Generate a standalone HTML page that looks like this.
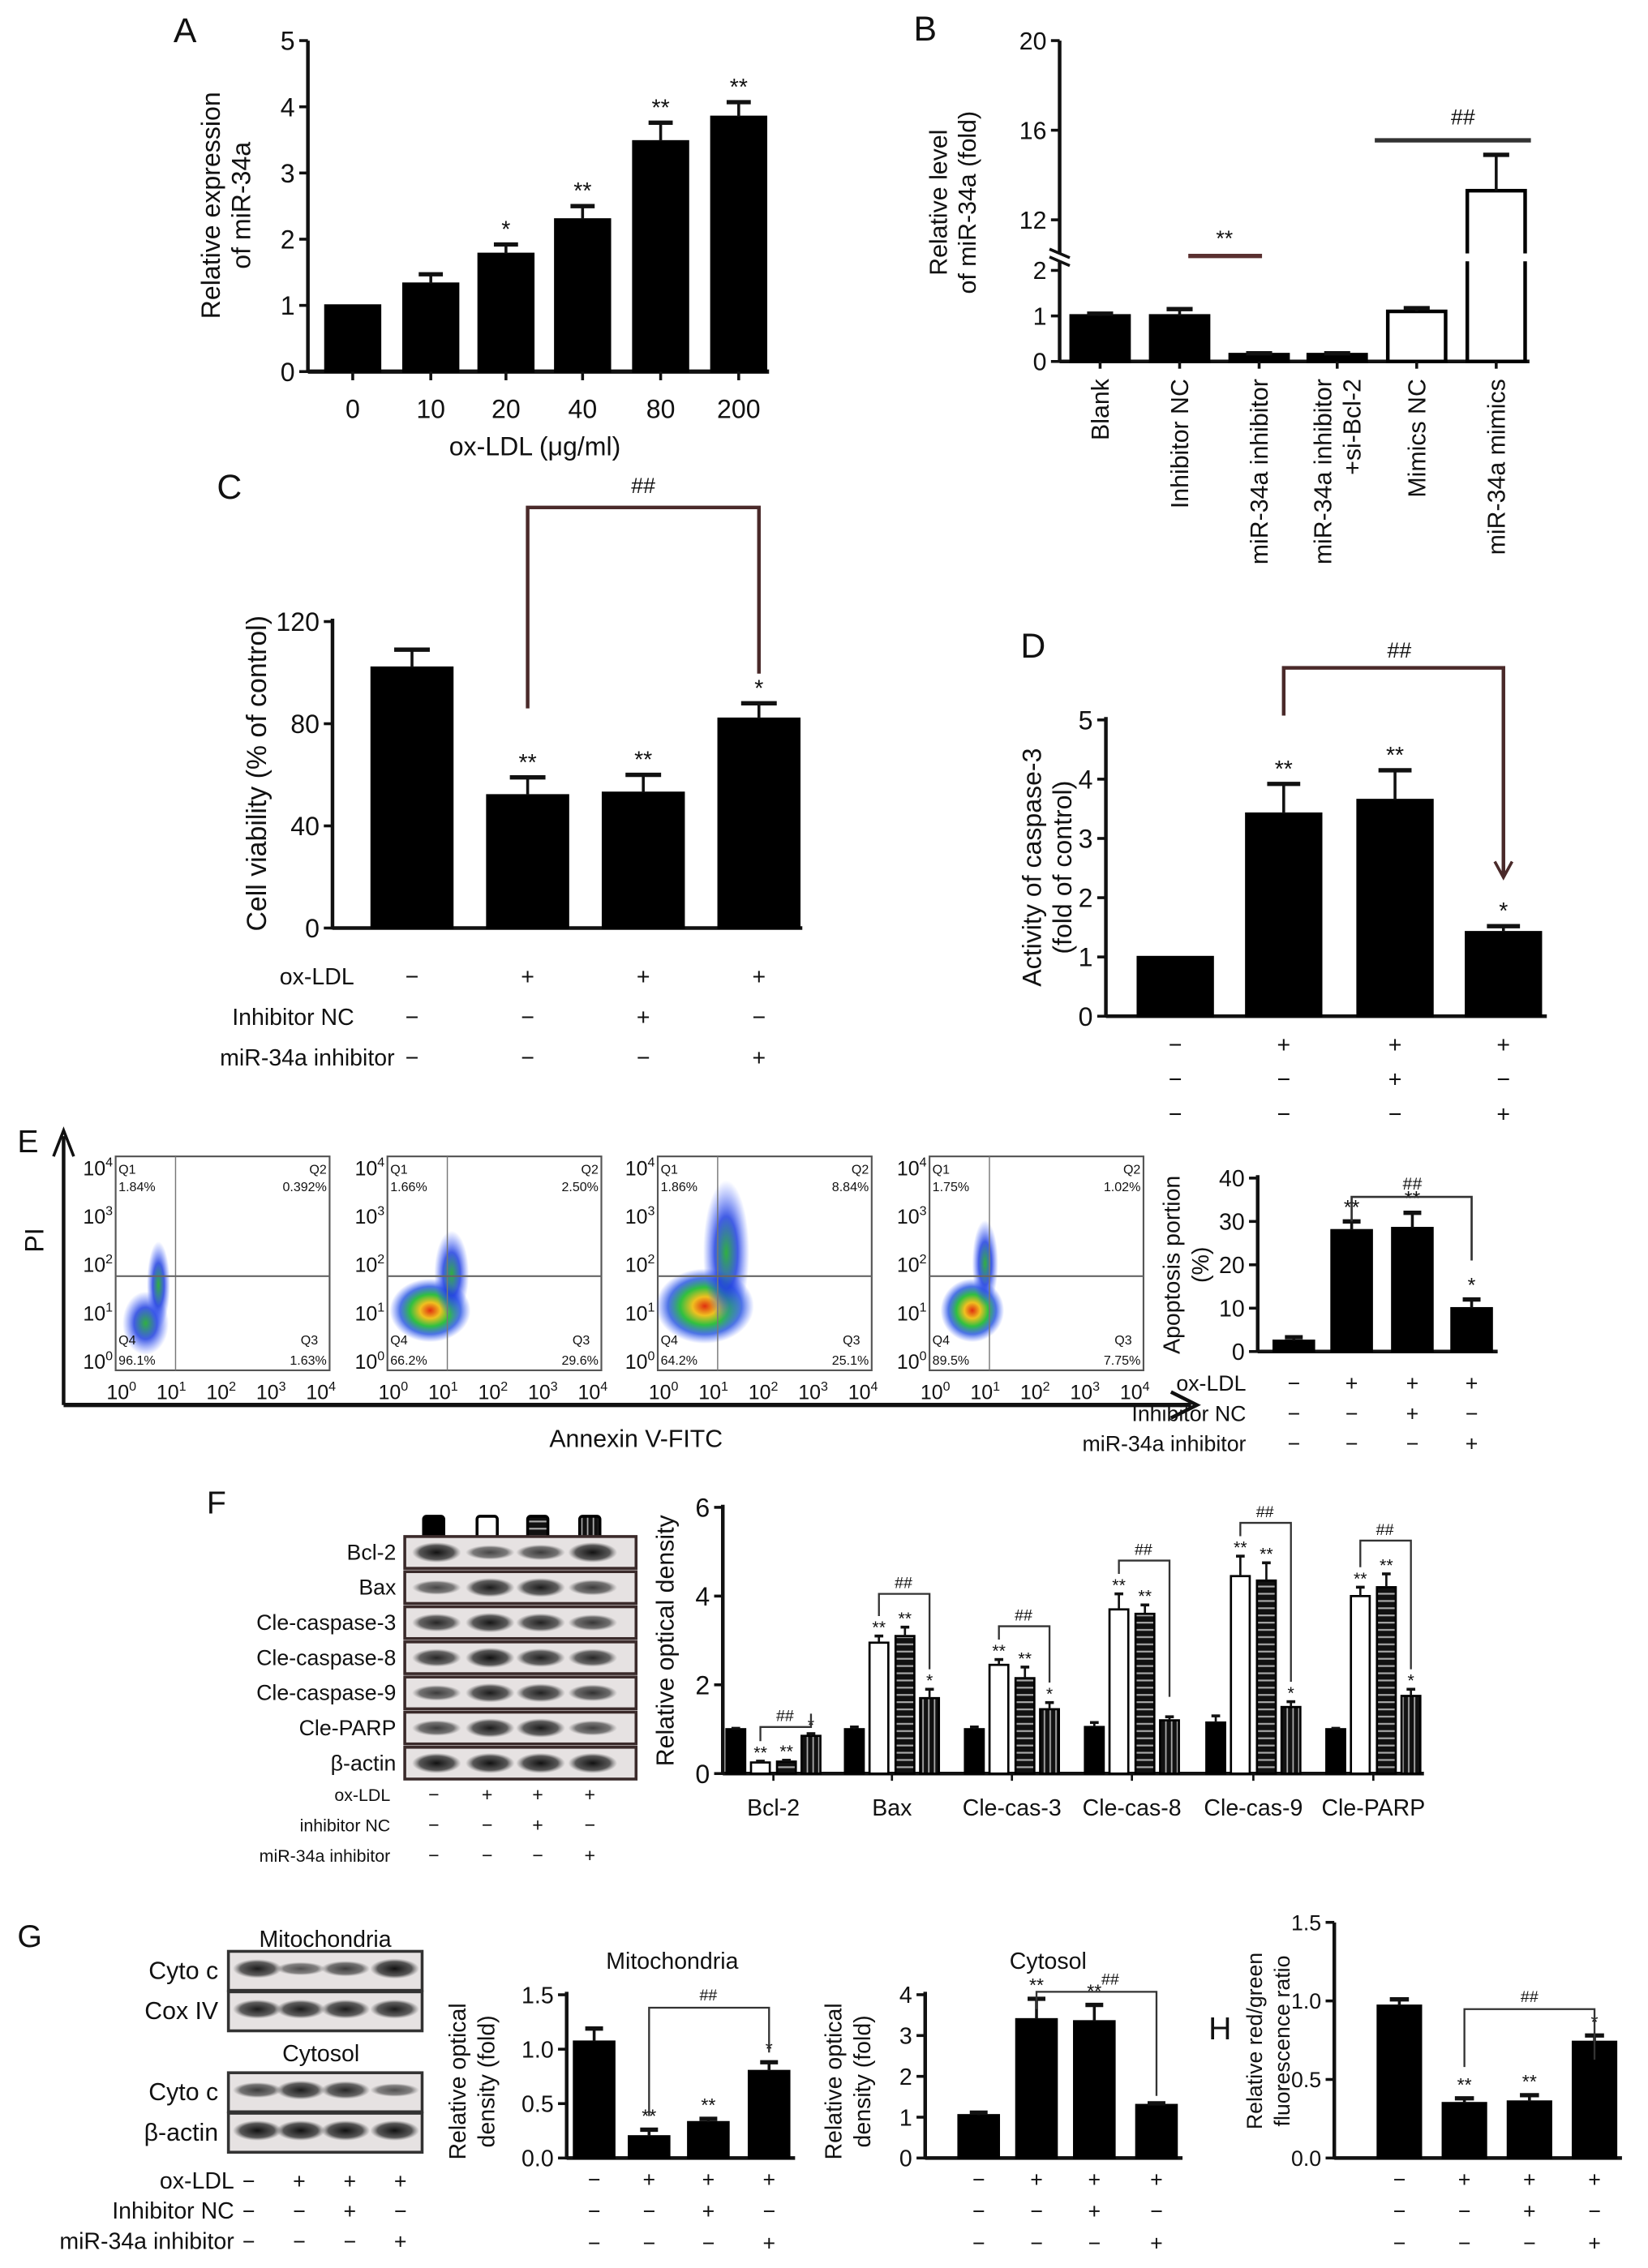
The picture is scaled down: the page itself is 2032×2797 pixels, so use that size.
<!DOCTYPE html>
<html><head><meta charset="utf-8"><style>
html,body{margin:0;padding:0;background:#fff}
svg{display:block}
text{font-family:"Liberation Sans Narrow","Liberation Sans",sans-serif;fill:#111}
.t{font-family:"Liberation Sans",sans-serif}
</style></head><body>
<svg id="fig" xmlns="http://www.w3.org/2000/svg" width="2032" height="2797" viewBox="0 0 1140 1569">
<defs>
<pattern id="hstripe" width="6" height="5" patternUnits="userSpaceOnUse"><rect width="6" height="5" fill="#111"/><rect y="2" width="6" height="1.2" fill="#aaa"/></pattern>
<pattern id="vstripe" width="4" height="6" patternUnits="userSpaceOnUse"><rect width="4" height="6" fill="#111"/><rect x="2" width="1" height="6" fill="#aaa"/></pattern>
<radialGradient id="dens"><stop offset="0" stop-color="#e03010"/><stop offset="0.25" stop-color="#f0c020"/><stop offset="0.5" stop-color="#30c040"/><stop offset="0.75" stop-color="#2050e0" stop-opacity="0.8"/><stop offset="1" stop-color="#4060ff" stop-opacity="0"/></radialGradient>
<radialGradient id="densB"><stop offset="0" stop-color="#30b040"/><stop offset="0.5" stop-color="#2040e0" stop-opacity="0.85"/><stop offset="1" stop-color="#4060ff" stop-opacity="0"/></radialGradient>
<radialGradient id="band"><stop offset="0" stop-color="#111"/><stop offset="0.7" stop-color="#333" stop-opacity="0.8"/><stop offset="1" stop-color="#666" stop-opacity="0"/></radialGradient>
</defs>
</svg>
<script>
// ===== data =====
const aCats=["0","10","20","40","80","200"];
const aVals=[1.0,1.33,1.78,2.3,3.48,3.85];
const aErrs=[0,0.14,0.14,0.2,0.28,0.22];
const aSig=["","","*","**","**","**"];
const aTicks=[0,1,2,3,4,5];

const bCats=["Blank","Inhibitor NC","miR-34a inhibitor","miR-34a inhibitor|+si-Bcl-2","Mimics NC","miR-34a mimics"];
const bVals=[1.0,1.0,0.15,0.15,1.1,13.3];
const bErrs=[0.05,0.15,0.03,0.03,0.07,1.6];
const bTicksLow=[0,1,2];
const bTicksHigh=[12,16,20];

const cVals=[102,52,53,82];
const cErrs=[7,7,7,6];
const cSig=["","**","**","*"];
const cTicks=[0,40,80,120];

const dVals=[1.0,3.42,3.65,1.42];
const dErrs=[0,0.5,0.5,0.1];
const dSig=["","**","**","*"];
const dTicks=[0,1,2,3,4,5];

const eVals=[2.5,28,28.5,10];
const eErrs=[0.8,2,3.5,2];
const eSig=["","**","**","*"];
const eTicks=[0,10,20,30,40];
const flowQ1=["1.84%","1.66%","1.86%","1.75%"];
const flowQ2=["0.392%","2.50%","8.84%","1.02%"];
const flowQ3=["1.63%","29.6%","25.1%","7.75%"];
const flowQ4=["96.1%","66.2%","64.2%","89.5%"];

const fCats=["Bcl-2","Bax","Cle-cas-3","Cle-cas-8","Cle-cas-9","Cle-PARP"];
const fCtrl=[1.0,1.0,1.0,1.05,1.15,1.0];
const fOx=[0.25,2.95,2.45,3.7,4.45,4.0];
const fNC=[0.27,3.1,2.15,3.6,4.35,4.2];
const fInh=[0.85,1.7,1.45,1.2,1.5,1.75];
const fErr=[[0.02,0.05,0.05,0.1,0.15,0.02],[0.03,0.15,0.12,0.35,0.45,0.2],[0.03,0.2,0.25,0.2,0.4,0.3],[0.05,0.2,0.15,0.08,0.12,0.15]];
const fSig=[["**","**","*"],["**","**","*"],["**","**","*"],["**","**",""],["**","**","*"],["**","**","*"]];
const fTicks=[0,2,4,6];

const gmVals=[1.07,0.2,0.33,0.8];
const gmErrs=[0.12,0.06,0.03,0.08];
const gcVals=[1.05,3.4,3.35,1.3];
const gcErrs=[0.06,0.5,0.4,0.04];
const gSigM=["","**","**","*"];
const gSigC=["","**","**",""];
const gmTicks=[0.0,0.5,1.0,1.5];
const gcTicks=[0,1,2,3,4];

const hVals=[0.97,0.35,0.36,0.74];
const hErrs=[0.04,0.03,0.04,0.04];
const hSig=["","**","**","*"];
const hTicks=[0.0,0.5,1.0,1.5];

const signOx=["−","+","+","+"];
const signNC=["−","−","+","−"];
const signInh=["−","−","−","+"];

// ===== helpers =====
const NS="http://www.w3.org/2000/svg";
const svg=document.getElementById('fig');
function mk(tag,attrs,name,parent){
  const e=document.createElementNS(NS,tag);
  for(const k in attrs)e.setAttribute(k,attrs[k]);
  
  
  (parent||svg).appendChild(e);return e;
}
function txt(x,y,s,size,anchor,name,rot,cls){
  const a={x:x,y:y,'font-size':size,'text-anchor':anchor||'middle'};
  if(rot)a.transform=`rotate(${rot} ${x} ${y})`;
  if(cls)a['class']=cls;
  const t=mk('text',a,name);t.textContent=s;return t;
}
function line(x1,y1,x2,y2,w,name,col){return mk('line',{x1:x1,y1:y1,x2:x2,y2:y2,stroke:col||'#111','stroke-width':w||1.5},name);}
function fmt(v,d){return d?v.toFixed(d):String(v);}
function yAxis(ax,base,ppu,ticks,top,size,dec,name){
  line(ax,base+1,ax,top,2.5,name+'-y-axis');
  ticks.forEach(t=>{const y=base-t*ppu;line(ax-6,y,ax,y,2,name+'-y-tick');txt(ax-9,y+size*0.36,fmt(t,dec),size,'end',name+'-y-tick-label');});
}
function barSet(ax,base,ppu,centers,w,vals,errs,sig,name,fill,ssize){
  vals.forEach((v,i)=>{
    const x=centers[i]-w/2,h=v*ppu,y=base-h;
    mk('rect',{x:x,y:y,width:w,height:h,fill:fill||'#000',stroke:'#000','stroke-width':1.5},name+'-bar');
    if(errs[i]>0){const ye=base-(v+errs[i])*ppu;line(centers[i],y,centers[i],ye,2,name+'-error-bar');line(centers[i]-w*0.22,ye,centers[i]+w*0.22,ye,3,name+'-error-cap');}
    if(sig&&sig[i]){const ye=base-(v+errs[i])*ppu;txt(centers[i],ye-5,sig[i],ssize||14,'middle',name+'-significance');}
  });
}
function signRows(xs,ys,size,name){
  [signOx,signNC,signInh].forEach((row,r)=>row.forEach((s,i)=>txt(xs[i],ys[r],s,size,'middle',name+'-sign')));
}

// ===== Panel A =====
txt(120,29,"A",24,'start','panel-a-label',0,'t');
(function(){
  const ax=213,base=257,ppu=45.8,centers=[244,298,350,403,457,511];
  yAxis(ax,base,ppu,aTicks,28,18,0,'panel-a');
  line(ax,base,532,base,3,'panel-a-x-axis');
  barSet(ax,base,ppu,centers,38,aVals,aErrs,aSig,'panel-a',"#000",16);
  centers.forEach((c,i)=>{line(c,base,c,base+6,2,'panel-a-x-tick');txt(c,289,aCats[i],18,'middle','panel-a-x-tick-label');});
  txt(370,315,"ox-LDL (μg/ml)",18,'middle','panel-a-x-title');
  txt(152,142,"Relative expression",18,'middle','panel-a-y-title',-90,'t');
  txt(173,142,"of miR-34a",18,'middle','panel-a-y-title',-90,'t');
})();

// ===== Panel B =====
txt(632,28,"B",24,'start','panel-b-label',0,'t');
(function(){
  const ax=733,baseL=250,ppuL=31.5,topH=28,ppuH=15.5;
  const yH=v=>topH+(20-v)*ppuH, yL=v=>baseL-v*ppuL;
  line(ax,baseL+1,ax,yL(2.2),2.5,'panel-b-y-axis-lower');
  line(ax,yH(10.5),ax,topH,2.5,'panel-b-y-axis-upper');
  line(ax-7,yL(2.2)-3,ax+7,yL(2.2)+3,2,'panel-b-axis-break');
  line(ax-7,yH(10.5)-3,ax+7,yH(10.5)+3,2,'panel-b-axis-break');
  bTicksLow.forEach(t=>{line(ax-6,yL(t),ax,yL(t),2,'panel-b-y-tick');txt(ax-9,yL(t)+6,String(t),17,'end','panel-b-y-tick-label');});
  bTicksHigh.forEach(t=>{line(ax-6,yH(t),ax,yH(t),2,'panel-b-y-tick');txt(ax-9,yH(t)+6,String(t),17,'end','panel-b-y-tick-label');});
  line(ax,baseL,1058,baseL,2.5,'panel-b-x-axis');
  const centers=[761,816,871,925,980,1035],w=40;
  bVals.forEach((v,i)=>{
    const fill=i>=4?'#fff':'#000';
    const yv=v>2?yH(v):yL(v);
    mk('rect',{x:centers[i]-w/2,y:yv,width:w,height:baseL-yv,fill:fill,stroke:'#000','stroke-width':2.5},'panel-b-bar');
    const ye=(v+bErrs[i])>2?yH(v+bErrs[i]):yL(v+bErrs[i]);
    line(centers[i],yv,centers[i],ye,2,'panel-b-error-bar');line(centers[i]-9,ye,centers[i]+9,ye,3,'panel-b-error-cap');
    line(centers[i],baseL,centers[i],baseL+5,2,'panel-b-x-tick');
    const parts=bCats[i].split('|');
    parts.forEach((p,j)=>txt(centers[i]+6+(j-(parts.length-1)/2)*20,262,p,17,'end','panel-b-x-tick-label',-90,'t'));
  });
  mk('rect',{x:centers[5]-w/2-2,y:yH(10.5),width:w+4,height:yL(2.2)-yH(10.5),fill:'#fff'},'panel-b-bar-gap');
  line(822,177,873,177,3,'panel-b-sig-line','#5a3030');txt(847,170,"**",15,'middle','panel-b-significance');
  line(951,97,1059,97,3,'panel-b-sig-line','#333');txt(1012,86,"##",15,'middle','panel-b-significance');
  txt(655,140,"Relative level",17,'middle','panel-b-y-title',-90,'t');
  txt(675,140,"of miR-34a (fold)",17,'middle','panel-b-y-title',-90,'t');
})();

// ===== Panel C =====
txt(150,345,"C",24,'start','panel-c-label',0,'t');
(function(){
  const ax=230,base=642,ppu=1.767,centers=[285,365,445,525];
  yAxis(ax,base,ppu,cTicks,428,18,0,'panel-c');
  line(ax,base,555,base,2.5,'panel-c-x-axis');
  barSet(ax,base,ppu,centers,56,cVals,cErrs,cSig,'panel-c',"#000",16);
  mk('path',{d:'M365 490V351H525V466',fill:'none',stroke:'#4a2a2a','stroke-width':2.5},'panel-c-bracket');
  txt(445,341,"##",15,'middle','panel-c-bracket-label');
  txt(184,535,"Cell viability (% of control)",19,'middle','panel-c-y-title',-90,'t');
  const ys=[681,709,737];
  txt(245,ys[0],"ox-LDL",16,'end','panel-c-row-label','', 't');
  txt(245,ys[1],"Inhibitor NC",16,'end','panel-c-row-label','','t');
  txt(273,ys[2],"miR-34a inhibitor",16,'end','panel-c-row-label','','t');
  signRows(centers,ys,16,'panel-c');
})();

// ===== Panel D =====
txt(706,455,"D",24,'start','panel-d-label',0,'t');
(function(){
  const ax=765,base=703,ppu=41,centers=[813,888,965,1040];
  yAxis(ax,base,ppu,dTicks,496,18,0,'panel-d');
  line(ax,base,1070,base,2.5,'panel-d-x-axis');
  barSet(ax,base,ppu,centers,52,dVals,dErrs,dSig,'panel-d',"#000",16);
  mk('path',{d:'M888 495V462H1040V605',fill:'none',stroke:'#4a2a2a','stroke-width':2.5},'panel-d-bracket');
  mk('path',{d:'M1034 596L1040 607L1046 596',fill:'none',stroke:'#4a2a2a','stroke-width':2},'panel-d-bracket-arrow');
  txt(968,455,"##",15,'middle','panel-d-bracket-label');
  txt(720,600,"Activity of caspase-3",18,'middle','panel-d-y-title',-90,'t');
  txt(741,600,"(fold of control)",18,'middle','panel-d-y-title',-90,'t');
  signRows(centers,[728,752,776],16,'panel-d');
})();

// ===== Panel E =====
txt(12,797,"E",22,'start','panel-e-label',0,'t');
(function(){
  line(44,972,44,786,2.5,'panel-e-y-arrow');
  mk('path',{d:'M37 800L44 782L51 800',fill:'none',stroke:'#111','stroke-width':2},'panel-e-y-arrowhead');
  line(44,972,824,972,3,'panel-e-x-arrow');
  mk('path',{d:'M810 963L828 972L810 981',fill:'none',stroke:'#111','stroke-width':2.5},'panel-e-x-arrowhead');
  txt(30,858,"PI",18,'middle','panel-e-y-title',-90,'t');
  txt(440,1001,"Annexin V-FITC",17,'middle','panel-e-x-title','','t');
  const lefts=[80,268,455,643],W=148,top=800,H=148;
  const blobs=[[[0.14,0.78,16,22,'densB'],[0.2,0.6,8,30,'densB']],
               [[0.2,0.72,28,22,'dens'],[0.3,0.55,12,30,'densB']],
               [[0.22,0.7,34,26,'dens'],[0.32,0.45,16,50,'densB']],
               [[0.2,0.72,22,22,'dens'],[0.26,0.5,9,30,'densB']]];
  lefts.forEach((L,i)=>{
    mk('rect',{x:L,y:top,width:W,height:H,fill:'#fff',stroke:'#555','stroke-width':1.2},'flow-plot-frame');
    blobs[i].forEach(b=>mk('ellipse',{cx:L+b[0]*W,cy:top+b[1]*H,rx:b[2],ry:b[3],fill:`url(#${b[4]})`},'flow-plot-population'));
    line(L+0.28*W,top,L+0.28*W,top+H,0.8,'flow-gate-vertical','#777');
    line(L,top+0.56*H,L+W,top+0.56*H,1.2,'flow-gate-horizontal','#666');
    txt(L+2,top+12,"Q1",9,'start','flow-q1-label');txt(L+2,top+24,flowQ1[i],9,'start','flow-q1-value');
    txt(L+W-2,top+12,"Q2",9,'end','flow-q2-label');txt(L+W-2,top+24,flowQ2[i],9,'end','flow-q2-value');
    txt(L+W-8,top+H-18,"Q3",9,'end','flow-q3-label');txt(L+W-2,top+H-4,flowQ3[i],9,'end','flow-q3-value');
    txt(L+2,top+H-18,"Q4",9,'start','flow-q4-label');txt(L+2,top+H-4,flowQ4[i],9,'start','flow-q4-value');
    for(let k=0;k<5;k++){
      const y=top+H-6-k*(H-14)/4;
      const t=txt(L-2,y+5,"10",14,'end','flow-y-tick-label');
      const s=document.createElementNS(NS,'tspan');s.setAttribute('dy','-6');s.setAttribute('font-size','9');s.textContent=String(k);t.appendChild(s);
      const x=L+4+k*(W-10)/4;
      const t2=txt(x,top+H+20,"10",14,'middle','flow-x-tick-label');
      const s2=document.createElementNS(NS,'tspan');s2.setAttribute('dy','-6');s2.setAttribute('font-size','9');s2.textContent=String(k);t2.appendChild(s2);
    }
  });
  const ax=870,base=935,ppu=3,centers=[895,935,977,1018];
  yAxis(ax,base,ppu,eTicks,813,16,0,'panel-e');
  line(ax,base,1036,base,2.5,'panel-e-x-axis');
  barSet(ax,base,ppu,centers,28,eVals,eErrs,eSig,'panel-e',"#000",14);
  mk('path',{d:'M935 845V828H1018V872',fill:'none',stroke:'#333','stroke-width':1.5},'panel-e-bracket');
  txt(977,823,"##",12,'middle','panel-e-bracket-label');
  txt(816,875,"Apoptosis portion",16,'middle','panel-e-y-title',-90,'t');
  txt(836,875,"(%)",16,'middle','panel-e-y-title',-90,'t');
  const ys=[962,983,1004];
  txt(862,ys[0],"ox-LDL",15,'end','panel-e-row-label','','t');
  txt(862,ys[1],"Inhibitor NC",15,'end','panel-e-row-label','','t');
  txt(862,ys[2],"miR-34a inhibitor",15,'end','panel-e-row-label','','t');
  signRows(centers,ys,15,'panel-e');
})();

// ===== Panel F =====
txt(143,1047,"F",22,'start','panel-f-label',0,'t');
(function(){
  const lanes=[300,337,372,408];
  const fills=['#000','#fff','url(#hstripe)','url(#vstripe)'];
  lanes.forEach((x,i)=>mk('rect',{x:x-7,y:1049,width:14,height:16,fill:fills[i],stroke:'#000','stroke-width':2,rx:2},'legend-swatch'));
  const rows=["Bcl-2","Bax","Cle-caspase-3","Cle-caspase-8","Cle-caspase-9","Cle-PARP","β-actin"];
  const inten=[[1,0.5,0.6,1],[0.5,0.9,0.9,0.6],[0.8,0.95,0.85,0.65],[0.8,1,0.85,0.8],[0.6,0.9,0.85,0.7],[0.6,0.9,0.9,0.55],[1,1,1,1]];
  rows.forEach((r,k)=>{
    const y=1063+k*24.3;
    mk('rect',{x:280,y:y,width:160,height:22,fill:'#e6e2e2',stroke:'#3a2a2a','stroke-width':2},'blot-row');
    lanes.forEach((x,i)=>mk('ellipse',{cx:x+2,cy:y+11,rx:17,ry:3+4*inten[k][i],fill:'url(#band)','opacity':0.5+0.5*inten[k][i]},'blot-band'));
    txt(274,y+16,r,15,'end','blot-row-label','','t');
  });
  const ys=[1246,1267,1288];
  txt(270,ys[0],"ox-LDL",12,'end','panel-f-row-label','','t');
  txt(270,ys[1],"inhibitor NC",12,'end','panel-f-row-label','','t');
  txt(270,ys[2],"miR-34a inhibitor",12,'end','panel-f-row-label','','t');
  signRows(lanes,ys,13,'panel-f');
  const ax=500,base=1227,ppu=30.7,gc=[535,617,700,783,867,950],off=[-26,-9,9,26],w=13;
  yAxis(ax,base,ppu,fTicks,1041,18,0,'panel-f');
  line(ax,base,985,base,2.5,'panel-f-x-axis');
  const series=[fCtrl,fOx,fNC,fInh];
  gc.forEach((c,g)=>{
    series.forEach((s,k)=>{
      const cx=c+off[k],v=s[g],e=fErr[k][g],y=base-v*ppu;
      mk('rect',{x:cx-w/2,y:y,width:w,height:v*ppu,fill:fills[k],stroke:'#000','stroke-width':1.5},'panel-f-bar');
      const ye=base-(v+e)*ppu;line(cx,y,cx,ye,1.5,'panel-f-error-bar');line(cx-3,ye,cx+3,ye,2,'panel-f-error-cap');
      if(k>0&&fSig[g][k-1])txt(cx,ye-2,fSig[g][k-1],12,'middle','panel-f-significance');
    });
    const top=base-(Math.max(fOx[g]+fErr[1][g],fNC[g]+fErr[2][g])+0.75)*ppu;
    mk('path',{d:`M${c+off[1]} ${base-(fOx[g]+fErr[1][g]+0.45)*ppu}V${top}H${c+off[3]}V${base-(fInh[g]+fErr[3][g]+0.45)*ppu}`,fill:'none',stroke:'#333','stroke-width':1.3},'panel-f-bracket');
    txt(c+8,top-4,"##",11,'middle','panel-f-bracket-label');
    line(c,base,c,base+5,1.5,'panel-f-x-tick');
    txt(c,1256,fCats[g],16,'middle','panel-f-x-tick-label');
  });
  txt(466,1135,"Relative optical density",17,'middle','panel-f-y-title',-90,'t');
})();

// ===== Panel G =====
txt(12,1347,"G",22,'start','panel-g-label',0,'t');
(function(){
  txt(225,1347,"Mitochondria",16,'middle','blot-mito-title','','t');
  txt(222,1426,"Cytosol",16,'middle','blot-cyto-title','','t');
  const lanes=[178,208,239,273];
  const blocks=[[1350,"Cyto c",[0.9,0.4,0.6,1]],[1378,"Cox IV",[0.9,0.9,0.9,0.9]],[1434,"Cyto c",[0.6,0.9,0.8,0.4]],[1462,"β-actin",[1,1,1,1]]];
  blocks.forEach(b=>{
    mk('rect',{x:158,y:b[0],width:134,height:27,fill:'#e6e2e2',stroke:'#333','stroke-width':2},'blot-row');
    lanes.forEach((x,i)=>mk('ellipse',{cx:x,cy:b[0]+12,rx:17,ry:3+4*b[2][i],fill:'url(#band)',opacity:0.5+0.5*b[2][i]},'blot-band'));
    txt(151,b[0]+19,b[1],17,'end','blot-row-label','','t');
  });
  const ys=[1514,1535,1556];
  txt(162,ys[0],"ox-LDL",16,'end','panel-g-row-label','','t');
  txt(162,ys[1],"Inhibitor NC",16,'end','panel-g-row-label','','t');
  txt(162,ys[2],"miR-34a inhibitor",16,'end','panel-g-row-label','','t');
  const signX=[172,207,242,277];
  [signOx,signNC,signInh].forEach((row,r)=>row.forEach((s,i)=>txt(signX[i],ys[r],s,15,'middle','panel-g-sign')));
  const sy=[1513,1535,1557];
  let ax=392,base=1493,ppu=75.3,centers=[411,449,490,532];
  yAxis(ax,base,ppu,gmTicks,1378,16,1,'panel-g-mito');
  line(ax,base,550,base,2.5,'panel-g-mito-x-axis');
  barSet(ax,base,ppu,centers,28,gmVals,gmErrs,gSigM,'panel-g-mito',"#000",13);
  mk('path',{d:'M449 1464V1389H532V1420',fill:'none',stroke:'#333','stroke-width':1.3},'panel-g-mito-bracket');
  txt(490,1384,"##",11,'middle','panel-g-mito-bracket-label');
  txt(465,1362,"Mitochondria",16,'middle','panel-g-mito-title','','t');
  txt(322,1440,"Relative optical",16,'middle','panel-g-mito-y-title',-90,'t');
  txt(342,1440,"density (fold)",16,'middle','panel-g-mito-y-title',-90,'t');
  signRows(centers,sy,15,'panel-g-mito');
  ax=640;ppu=28.25;centers=[677,717,757,800];
  yAxis(ax,base,ppu,gcTicks,1378,16,0,'panel-g-cyto');
  line(ax,base,818,base,2.5,'panel-g-cyto-x-axis');
  barSet(ax,base,ppu,centers,28,gcVals,gcErrs,gSigC,'panel-g-cyto',"#000",13);
  mk('path',{d:'M717 1390V1378H800V1450',fill:'none',stroke:'#333','stroke-width':1.3},'panel-g-cyto-bracket');
  txt(768,1373,"##",11,'middle','panel-g-cyto-bracket-label');
  txt(725,1362,"Cytosol",16,'middle','panel-g-cyto-title','','t');
  txt(582,1440,"Relative optical",16,'middle','panel-g-cyto-y-title',-90,'t');
  txt(602,1440,"density (fold)",16,'middle','panel-g-cyto-y-title',-90,'t');
  signRows(centers,sy,15,'panel-g-cyto');
})();

// ===== Panel H =====
txt(836,1411,"H",22,'start','panel-h-label',0,'t');
(function(){
  const ax=923,base=1493,ppu=108.7,centers=[968,1013,1058,1103];
  yAxis(ax,base,ppu,hTicks,1330,15,1,'panel-h');
  line(ax,base,1122,base,2.5,'panel-h-x-axis');
  barSet(ax,base,ppu,centers,30,hVals,hErrs,hSig,'panel-h',"#000",13);
  mk('path',{d:'M1013 1430V1390H1103V1425',fill:'none',stroke:'#333','stroke-width':1.3},'panel-h-bracket');
  txt(1058,1385,"##",11,'middle','panel-h-bracket-label');
  txt(873,1412,"Relative red/green",15,'middle','panel-h-y-title',-90,'t');
  txt(892,1412,"fluorescence ratio",15,'middle','panel-h-y-title',-90,'t');
  signRows(centers,[1513,1535,1557],15,'panel-h');
})();
</script>
</body></html>
